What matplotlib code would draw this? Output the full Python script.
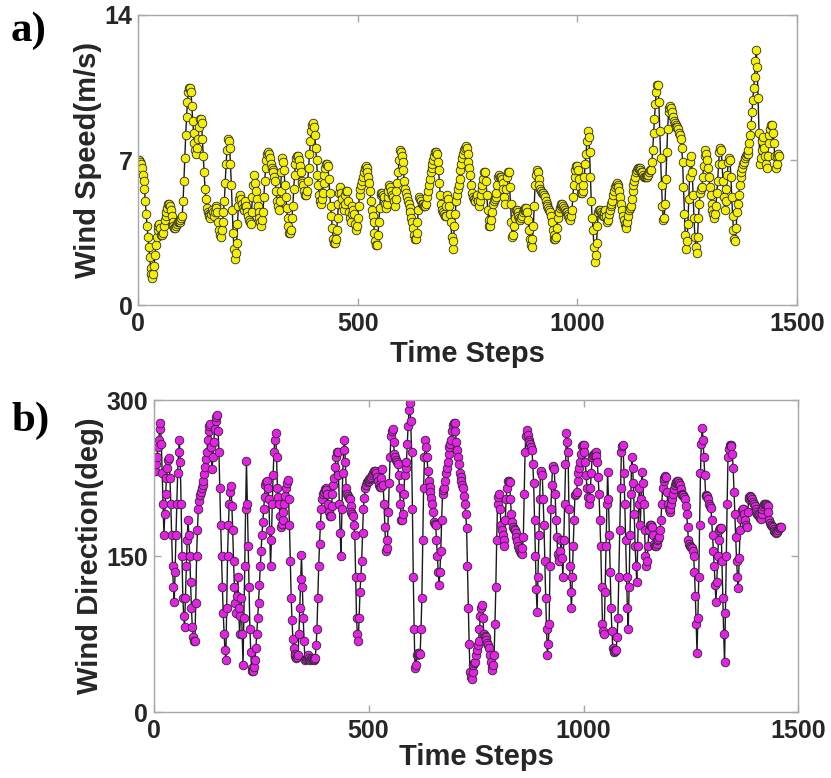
import numpy as np
import matplotlib
matplotlib.use("Agg")
import matplotlib.pyplot as plt

# Sampling interval of the recorded series (time steps)
step = 2

# Wind speed (m/s), one value every `step` time steps starting at 0
wind_speed = [
    # t = 0 .. 372
    7.0, 7.0, 6.9, 6.8, 6.6, 6.3, 6.0, 5.6, 5.0, 4.4,
    3.8, 3.3, 2.8, 2.3, 1.8, 1.5, 1.3, 1.5, 1.9, 2.4,
    2.9, 3.3, 3.6, 3.8, 3.9, 3.7, 3.4, 3.4, 3.5, 3.8,
    4.1, 4.3, 4.5, 4.7, 4.9, 4.9, 4.8, 4.6, 4.3, 4.0,
    3.8, 3.7, 3.7, 3.8, 3.9, 4.0, 4.0, 4.0, 4.1, 4.2,
    4.3, 5.0, 6.0, 7.1, 8.2, 9.1, 9.8, 10.3, 10.5, 10.5,
    10.3, 9.6, 8.9, 8.3, 7.8, 7.5, 7.3, 7.6, 8.0, 8.6,
    9.0, 9.0, 8.8, 8.0, 7.2, 6.4, 5.6, 5.1, 4.7, 4.5,
    4.4, 4.3, 4.2, 4.4, 4.6, 4.5, 4.3, 4.5, 4.8, 4.7,
    4.5, 4.0, 3.6, 3.4, 3.3, 3.6, 4.0, 4.5, 5.0, 5.9,
    6.8, 7.5, 8.0, 7.9, 7.6, 6.8, 5.8, 4.6, 3.5, 2.7,
    2.2, 2.5, 3.0, 3.9, 4.8, 5.1, 5.3, 5.1, 4.9, 4.7,
    4.6, 4.8, 5.0, 4.8, 4.5, 4.3, 4.1, 4.0, 3.9, 4.5,
    5.2, 5.8, 6.3, 5.9, 5.5, 5.1, 4.8, 4.5, 4.2, 4.0,
    3.8, 4.1, 4.5, 5.2, 6.0, 6.6, 7.0, 7.3, 7.4, 7.3,
    7.1, 6.8, 6.6, 6.5, 6.4, 6.2, 6.0, 5.5, 5.0, 4.8,
    4.6, 5.0, 5.5, 6.4, 7.1, 6.9, 6.5, 5.8, 5.2, 4.7,
    4.2, 3.8, 3.5, 3.5, 3.6, 4.2, 4.8, 5.6, 6.3, 6.8,
    7.1, 7.2, 7.2, 7.0, 6.7, 6.4, 6.0,
    # t = 374 .. 748
    5.9, 5.8, 5.5, 5.3, 5.3, 5.5, 6.0, 6.6, 7.3, 7.9,
    8.4, 8.7, 8.8, 8.6, 8.2, 7.6, 7.0, 6.3, 5.8, 5.3,
    5.0, 4.9, 5.1, 5.4, 5.9, 6.3, 6.6, 6.8, 6.8, 6.7,
    6.1, 5.4, 4.8, 4.3, 3.7, 3.2, 3.0, 3.0, 3.2, 3.6,
    4.2, 4.9, 5.4, 5.7, 5.4, 5.1, 4.8, 4.6, 4.9, 5.3,
    5.5, 5.5, 5.0, 4.5, 4.2, 4.0, 4.4, 4.8, 4.6, 4.4,
    3.9, 3.6, 3.8, 4.2, 4.8, 5.3, 5.6, 5.8, 6.0, 6.2,
    6.4, 6.6, 6.7, 6.6, 6.4, 6.2, 5.9, 5.5, 5.0, 4.6,
    4.3, 4.0, 3.5, 3.1, 2.9, 2.9, 3.4, 4.0, 4.7, 5.3,
    5.4, 5.4, 5.3, 5.2, 4.9, 4.7, 4.9, 5.2, 5.5, 5.8,
    5.7, 5.5, 5.3, 5.2, 5.0, 4.8, 5.1, 5.5, 5.9, 6.4,
    7.0, 7.5, 7.4, 7.2, 6.9, 6.5, 6.0, 5.6, 5.4, 5.2,
    5.0, 4.9, 4.7, 4.5, 4.2, 4.0, 3.7, 3.4, 3.2, 3.2,
    3.5, 4.0, 4.6, 5.2, 5.1, 5.0, 4.9, 4.9, 4.8, 4.8,
    4.8, 4.9, 5.2, 5.5, 5.8, 6.1, 6.4, 6.6, 6.8, 7.0,
    7.2, 7.4, 7.4, 7.3, 6.9, 6.5, 5.9, 5.3, 4.9, 4.6,
    4.5, 4.4, 4.3, 4.3, 4.8, 5.3, 5.1, 4.8, 4.4, 4.0,
    3.3, 2.7, 3.1, 3.8, 4.4, 5.0, 5.3, 5.6, 5.8, 6.1,
    6.5, 6.8, 7.1, 7.3, 7.5, 7.6, 7.7, 7.6,
    # t = 750 .. 1120
    7.3, 6.9, 6.6, 6.3, 5.8, 5.4, 5.2, 5.1, 5.0, 5.0,
    5.2, 5.3, 5.0, 4.8, 5.0, 5.3, 5.6, 5.8, 6.1, 6.4,
    6.4, 6.0, 5.3, 4.6, 4.1, 3.8, 3.8, 4.1, 4.5, 4.9,
    5.0, 5.1, 5.2, 5.4, 5.8, 6.2, 6.3, 6.2, 6.2, 6.1,
    5.9, 5.6, 5.2, 4.9, 5.6, 6.2, 6.4, 6.4, 5.7, 4.9,
    4.0, 3.3, 3.4, 3.8, 4.2, 4.6, 4.6, 4.5, 4.3, 4.2,
    4.1, 4.2, 4.3, 4.5, 4.6, 4.6, 4.7, 4.7, 4.5, 4.1,
    3.6, 3.2, 2.9, 2.8, 3.2, 3.8, 4.8, 5.8, 6.3, 6.5,
    6.4, 6.1, 5.8, 5.6, 5.5, 5.4, 5.4, 5.3, 5.2, 5.0,
    4.9, 4.8, 4.7, 4.6, 4.5, 4.3, 4.0, 3.6, 3.4, 3.2,
    3.2, 3.3, 3.7, 4.2, 4.5, 4.7, 4.8, 4.9, 4.9, 4.8,
    4.7, 4.6, 4.5, 4.5, 4.4, 4.3, 4.2, 4.1, 4.3, 4.6,
    5.2, 5.8, 6.2, 6.5, 6.7, 6.7, 6.5, 6.1, 5.7, 5.4,
    5.4, 5.5, 5.8, 6.2, 6.8, 7.3, 7.9, 8.4, 8.1, 7.4,
    6.2, 5.0, 4.2, 3.6, 2.8, 2.1, 2.4, 3.0, 3.8, 4.5,
    4.6, 4.6, 4.5, 4.4, 4.3, 4.3, 4.5, 4.6, 4.3, 4.0,
    4.1, 4.4, 4.6, 4.8, 4.9, 5.0, 5.3, 5.5, 5.7, 5.8,
    5.9, 5.8, 5.7, 5.5, 5.2, 4.9, 4.6, 4.3, 4.1, 3.9,
    3.8, 3.7, 4.0, 4.3, 4.6, 4.7,
    # t = 1122 .. 1460
    4.8, 5.1, 5.5, 5.8, 6.0, 6.2, 6.4, 6.5, 6.6, 6.6,
    6.6, 6.5, 6.4, 6.4, 6.3, 6.2, 6.2, 6.2, 6.2, 6.3,
    6.3, 6.4, 6.5, 6.5, 6.9, 7.5, 8.3, 9.0, 9.7, 10.3,
    10.6, 10.6, 9.8, 8.4, 7.1, 5.8, 4.8, 4.1, 4.2, 4.9,
    6.1, 7.4, 8.5, 9.3, 9.5, 9.6, 9.5, 9.3, 9.1, 8.9,
    8.8, 8.7, 8.6, 8.6, 8.5, 8.3, 8.2, 8.0, 7.6, 6.9,
    5.7, 4.4, 3.4, 2.7, 3.1, 3.9, 5.1, 6.2, 6.9, 7.2,
    6.4, 5.3, 4.2, 3.3, 2.8, 2.5, 3.3, 4.2, 4.9, 5.4,
    5.6, 5.7, 6.2, 6.7, 7.2, 7.5, 7.3, 7.0, 6.6, 6.2,
    5.7, 5.3, 4.9, 4.6, 4.4, 4.2, 4.4, 4.8, 5.4, 6.0,
    6.8, 7.4, 7.6, 7.5, 6.8, 6.0, 5.2, 4.6, 5.0, 5.6,
    6.3, 6.9, 7.1, 7.0, 6.2, 5.2, 4.3, 3.6, 3.2, 3.1,
    3.7, 4.5, 4.9, 5.3, 5.8, 6.2, 6.4, 6.6, 6.8, 6.9,
    7.1, 7.2, 7.3, 7.3, 7.5, 7.8, 8.2, 8.7, 9.3, 9.9,
    10.5, 11.0, 11.8, 12.3, 11.5, 10.0, 8.3, 6.8, 7.1, 7.5,
    7.9, 8.1, 7.6, 7.2, 6.8, 6.6, 7.2, 7.8, 8.2, 8.5,
    8.7, 8.7, 8.3, 7.8, 7.2, 6.6, 6.8, 7.2, 7.3, 7.2,
]

# Wind direction (deg), same sampling
wind_dir = [
    # t = 0 .. 364
    234, 232, 232, 238, 245, 255, 262, 272, 278, 258,
    230, 200, 170, 190, 210, 225, 235, 242, 244, 225,
    200, 170, 140, 120, 106, 135, 170, 200, 230, 250,
    262, 240, 200, 150, 110, 92, 82, 110, 140, 165,
    185, 170, 150, 125, 100, 82, 72, 68, 68, 105,
    150, 175, 195, 203, 209, 212, 215, 218, 222, 229,
    236, 243, 250, 262, 270, 275, 277, 255, 234, 245,
    260, 272, 280, 284, 286, 270, 250, 215, 180, 150,
    120, 95, 75, 60, 50, 100, 150, 180, 200, 212,
    217, 198, 175, 145, 120, 105, 95, 112, 130, 100,
    75, 92, 110, 75, 45, 90, 140, 195, 241, 200,
    160, 120, 80, 58, 42, 39, 39, 43, 50, 62,
    75, 90, 105, 122, 140, 155, 170, 183, 195, 207,
    218, 221, 222, 215, 205, 175, 140, 165, 200, 228,
    250, 262, 268, 245, 215, 207, 200, 188, 178, 181,
    185, 192, 200, 208, 215, 220, 223, 205, 180, 145,
    110, 88, 70, 62, 56, 54, 52, 53, 55, 75,
    100, 128, 151, 120, 90, 68, 50, 51, 52, 53,
    55, 52, 50,
    # t = 366 .. 748
    51, 52, 51, 50, 51, 52, 64, 80, 110, 140,
    162, 180, 195, 205, 210, 212, 214, 215, 213, 210,
    200, 192, 188, 188, 198, 210, 218, 225, 236, 245,
    250, 250, 228, 200, 172, 150, 195, 230, 252, 262,
    240, 215, 210, 208, 206, 205, 198, 192, 190, 188,
    180, 170, 130, 90, 75, 68, 90, 115, 130, 145,
    172, 195, 206, 215, 218, 221, 222, 222, 224, 225,
    226, 228, 230, 232, 232, 232, 230, 226, 222, 218,
    216, 216, 225, 234, 218, 200, 178, 155, 158, 165,
    192, 220, 245, 265, 270, 272, 260, 248, 245, 242,
    240, 238, 228, 215, 200, 185, 185, 190, 210, 228,
    235, 240, 258, 275, 290, 297, 280, 250, 195, 130,
    80, 42, 45, 55, 56, 57, 57, 56, 80, 110,
    165, 215, 245, 262, 255, 245, 232, 222, 216, 212,
    206, 200, 192, 183, 181, 180, 165, 150, 135, 122,
    135, 155, 185, 210, 213, 215, 222, 230, 235, 240,
    248, 255, 258, 262, 270, 276, 278, 278, 270, 260,
    252, 245, 238, 230, 226, 222, 218, 215, 208, 200,
    190, 177, 140, 100, 65, 38, 34, 32, 38, 45,
    47, 48,
    # t = 750 .. 1128
    55, 60, 64, 68, 80, 92, 100, 103, 90, 75,
    73, 72, 69, 66, 64, 62, 55, 48, 43, 40,
    45, 55, 85, 120, 165, 200, 207, 210, 195, 180,
    175, 170, 165, 160, 185, 205, 215, 222, 222, 221,
    205, 190, 183, 178, 176, 175, 172, 168, 164, 160,
    157, 155, 153, 152, 158, 168, 210, 250, 265, 271,
    266, 262, 260, 258, 255, 252, 238, 220, 185, 150,
    118, 96, 130, 170, 205, 231, 232, 228, 205, 180,
    145, 110, 80, 55, 65, 85, 140, 195, 218, 236,
    237, 234, 210, 185, 168, 152, 148, 145, 155, 165,
    148, 130, 165, 200, 238, 268, 260, 250, 195, 140,
    115, 100, 130, 160, 185, 209, 210, 212, 222, 230,
    235, 240, 248, 256, 257, 257, 250, 240, 228, 215,
    207, 200, 206, 215, 230, 245, 247, 248, 249, 250,
    246, 240, 226, 210, 185, 160, 120, 85, 78, 75,
    115, 160, 200, 231, 205, 170, 135, 100, 78, 62,
    60, 58, 59, 60, 72, 90, 130, 175, 215, 250,
    256, 257, 230, 200, 165, 130, 100, 80, 120, 170,
    210, 245, 235, 220, 190, 160, 140, 125, 160, 200,
    # t = 1130 .. 1460
    215, 180, 205, 231, 220, 200, 175, 150, 140, 145,
    160, 175, 180, 180, 180, 178, 170, 162, 160, 160,
    162, 165, 166, 168, 175, 185, 200, 215, 222, 225,
    227, 226, 212, 200, 195, 192, 195, 200, 205, 210,
    214, 218, 220, 221, 222, 222, 220, 218, 214, 210,
    209, 209, 207, 205, 198, 190, 178, 165, 162, 160,
    159, 158, 155, 150, 135, 112, 85, 57, 90, 130,
    180, 230, 258, 273, 262, 245, 228, 209, 208, 208,
    205, 200, 198, 196, 185, 170, 155, 140, 122, 106,
    125, 150, 165, 175, 177, 177, 145, 110, 75, 48,
    95, 150, 200, 245, 253, 257, 257, 256, 248, 235,
    212, 190, 168, 145, 130, 119, 148, 175, 186, 194,
    195, 195, 190, 185, 180, 178, 192, 205, 207, 208,
    207, 205, 202, 200, 198, 195, 192, 190, 189, 188,
    187, 186, 190, 195, 198, 200, 200, 200, 199, 198,
    192, 185, 182, 180, 179, 178, 176, 174, 173, 172,
    173, 175, 177, 178, 178, 178,
]

x_ticks = [0, 500, 1000, 1500]
speed_ticks = [0, 7, 14]
dir_ticks = [0, 150, 300]

t_speed = np.arange(len(wind_speed)) * step
t_dir = np.arange(len(wind_dir)) * step

SANS = ["Liberation Sans", "Arial", "DejaVu Sans"]
SERIF = ["Liberation Serif", "Times New Roman", "DejaVu Serif"]
plt.rcParams["font.family"] = SANS
plt.rcParams["font.weight"] = "bold"

fig = plt.figure(figsize=(8.31, 7.78), dpi=100)
fig.patch.set_facecolor("white")

ax1 = fig.add_axes([138.3 / 831, 1 - 305 / 778, (796.7 - 138.3) / 831, (305 - 15) / 778])
ax2 = fig.add_axes([153.6 / 831, 1 - 712 / 778, (798.5 - 153.6) / 831, (712 - 400) / 778])

spine_col = "#a8a8a8"
text_col = "#262626"
tick_fs = 18
label_fs = 21


def style(ax):
    for s in ax.spines.values():
        s.set_color(spine_col)
        s.set_linewidth(1.0)
    ax.tick_params(direction="in", length=5, width=1.0, color=spine_col,
                   top=True, right=True, labelsize=tick_fs, labelcolor=text_col)
    ax.tick_params(axis="x", pad=5)
    ax.tick_params(axis="y", pad=4)
    for lab in ax.get_xticklabels() + ax.get_yticklabels():
        lab.set_fontweight("bold")


ax1.plot(t_speed, wind_speed, "-", color="#1a1a1a", lw=1.0, marker="o",
         markersize=6.2, markerfacecolor="#f5f000", markeredgecolor="#2a2a2a",
         markeredgewidth=0.6)
ax1.set_xlim(0, 1500)
ax1.set_ylim(0, 14)
ax1.set_xticks(x_ticks)
ax1.set_yticks(speed_ticks)
style(ax1)
ax1.set_xlabel("Time Steps", fontsize=label_fs, fontweight="bold", color=text_col, labelpad=3)
ax1.set_ylabel("Wind Speed(m/s)", fontsize=label_fs, fontweight="bold", color=text_col, labelpad=2)

ax2.plot(t_dir, wind_dir, "-", color="#1a1a1a", lw=1.0, marker="o",
         markersize=6.2, markerfacecolor="#e620e6", markeredgecolor="#2a2a2a",
         markeredgewidth=0.6)
ax2.set_xlim(0, 1500)
ax2.set_ylim(0, 300)
ax2.set_xticks(x_ticks)
ax2.set_yticks(dir_ticks)
style(ax2)
ax2.set_xlabel("Time Steps", fontsize=label_fs, fontweight="bold", color=text_col, labelpad=0)
ax2.set_ylabel("Wind Direction(deg)", fontsize=label_fs, fontweight="bold", color=text_col, labelpad=2)

fig.text(11 / 831, 1 - 31 / 778, "a)", family=SERIF, fontweight="bold",
         fontsize=31, va="center", ha="left", color="black")
fig.text(11 / 831, 1 - 421 / 778, "b)", family=SERIF, fontweight="bold",
         fontsize=31, va="center", ha="left", color="black")

fig.savefig("out.png", dpi=100, facecolor="white")
